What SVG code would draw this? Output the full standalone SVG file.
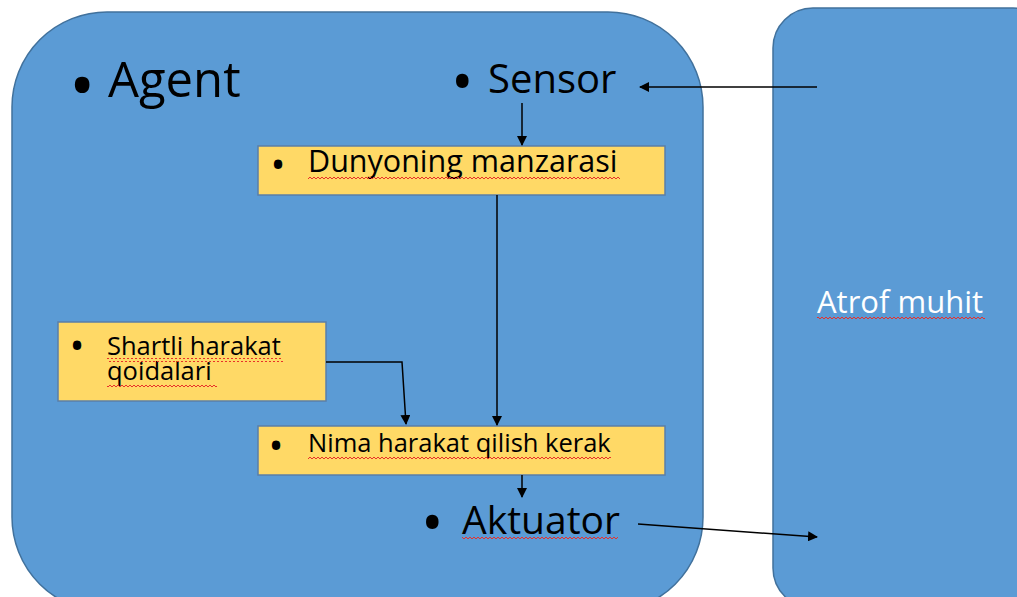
<svg xmlns="http://www.w3.org/2000/svg" width="1017" height="597" viewBox="0 0 1017 597">
<style>
.big{fill:#5B9BD5;stroke:#41719C;stroke-width:1.5}
.box{fill:#FFD966;stroke:#5B7FA8;stroke-width:1.5}
text{font-family:"Open Sans","Liberation Sans",sans-serif;fill:#000}
.w{fill:#fff}
.con{stroke:#000;stroke-width:1.5;fill:none;marker-end:url(#ah)}
</style>
<defs>
<marker id="ah" viewBox="0 0 10 10" refX="9" refY="5" markerWidth="10" markerHeight="10" markerUnits="userSpaceOnUse" orient="auto">
<path d="M0,0 L10,5 L0,10 z" fill="#000"/>
</marker>
<pattern id="wave" width="4" height="4" patternUnits="userSpaceOnUse">
<path d="M0,3 L2,1 L4,3" fill="none" stroke="#E8302A" stroke-width="1"/>
</pattern>
</defs>
<g id="agent">
<rect class="big" x="12" y="12" width="691" height="600" rx="95"/>
<text x="69" y="110" font-size="70">•</text>
<text x="108" y="97" font-size="49">Agent</text>
<text x="451" y="103" font-size="60">•</text>
<text x="488" y="93" font-size="40">Sensor</text>
<text x="421" y="544" font-size="60">•</text>
<text x="462" y="534" font-size="39">Aktuator</text>
<rect x="462" y="537" width="156" height="4" fill="url(#wave)"/>
</g>
<g id="environment">
<rect class="big" x="773" y="8" width="280" height="600" rx="40"/>
<text class="w" x="817" y="313" font-size="31">Atrof muhit</text>
<rect x="817" y="316" width="168" height="4" fill="url(#wave)"/>
</g>
<g id="dunyo">
<rect class="box" x="258" y="146" width="407" height="49"/>
<text x="270.5" y="179" font-size="40">•</text>
<text x="308" y="172" font-size="30.5">Dunyoning manzarasi</text>
<rect x="308" y="175" width="312" height="4" fill="url(#wave)"/>
</g>
<g id="shartli">
<rect class="box" x="58" y="322" width="268" height="79"/>
<text x="69.5" y="360" font-size="40">•</text>
<text x="107" y="355" font-size="25.5">Shartli harakat</text>
<text x="107" y="380" font-size="25.5">qoidalari</text>
<rect x="107" y="358" width="176" height="4" fill="url(#wave)"/>
<rect x="107" y="383" width="110" height="4" fill="url(#wave)"/>
</g>
<g id="nima">
<rect class="box" x="258" y="426" width="407" height="49"/>
<text x="268.5" y="460" font-size="40">•</text>
<text x="308" y="452" font-size="25.5">Nima harakat qilish kerak</text>
<rect x="308" y="455" width="303" height="4" fill="url(#wave)"/>
</g>
<g id="connectors">
<line class="con" x1="817" y1="87" x2="640" y2="87"/>
<line class="con" x1="522" y1="103" x2="522" y2="145"/>
<line class="con" x1="497" y1="195" x2="497" y2="425"/>
<polyline class="con" points="326,362 402,362 406,424"/>
<line class="con" x1="522" y1="475" x2="522" y2="497"/>
<line class="con" x1="638" y1="524" x2="817" y2="537"/>
</g>
</svg>
